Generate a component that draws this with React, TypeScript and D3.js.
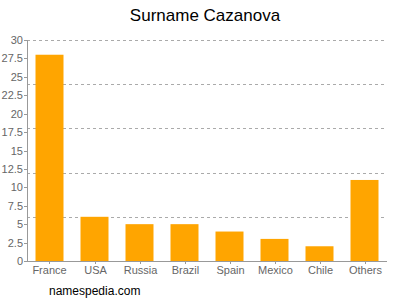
import React from "react";
import * as d3 from "d3";

const categories = ["France", "USA", "Russia", "Brazil", "Spain", "Mexico", "Chile", "Others"];
const values = [28, 6, 5, 5, 4, 3, 2, 11];
const yTicks = [0, 2.5, 5, 7.5, 10, 12.5, 15, 17.5, 20, 22.5, 25, 27.5, 30];
const gridValues = [6, 12, 18, 24, 30];
const title = "Surname Cazanova";
const footer = "namespedia.com";

export default function App() {
  const W = 400, H = 300;
  const left = 27, right = 387, top = 40, bottom = 261;
  const x = d3.scaleBand<string>().domain(categories).range([left, right]).paddingInner(0.378).paddingOuter(0.189);
  const y = d3.scaleLinear().domain([0, 30]).range([bottom, top]);
  const font = "Liberation Sans, Arial, sans-serif";
  return (
    <svg width={W} height={H} style={{ position: "absolute", left: 0, top: 0 }} fontFamily={font}>
      <rect width={W} height={H} fill="#fff" />
      <text x={205} y={21} textAnchor="middle" fontSize={17} fill="#000">{title}</text>
      {gridValues.map((g) => (
        <line key={g} x1={left} x2={right} y1={Math.round(y(g)) + 0.5} y2={Math.round(y(g)) + 0.5} stroke="#aaa" strokeDasharray="3,3" />
      ))}
      {categories.map((c, i) => (
        <rect key={c} x={x(c)!} y={y(values[i])} width={x.bandwidth()} height={bottom - y(values[i])} fill="#FFA500" />
      ))}
      <line x1={left + 0.5} x2={left + 0.5} y1={top} y2={bottom} stroke="#999" />
      <line x1={left} x2={right} y1={bottom + 0.5} y2={bottom + 0.5} stroke="#999" />
      {yTicks.map((t) => (
        <g key={t}>
          <line x1={left - 3} x2={left} y1={Math.round(y(t)) + 0.5} y2={Math.round(y(t)) + 0.5} stroke="#999" />
          <text x={left - 4} y={y(t) + 4} textAnchor="end" fontSize={11} fill="#666">{t}</text>
        </g>
      ))}
      {categories.map((c) => {
        const cx = Math.round(x(c)! + x.bandwidth() / 2) + 0.5;
        return (
          <g key={c}>
            <line x1={cx} x2={cx} y1={bottom} y2={bottom + 3} stroke="#999" />
            <text x={cx} y={bottom + 13} textAnchor="middle" fontSize={11} fill="#666">{c}</text>
          </g>
        );
      })}
      <text x={49} y={295} fontSize={12} fill="#000">{footer}</text>
    </svg>
  );
}
